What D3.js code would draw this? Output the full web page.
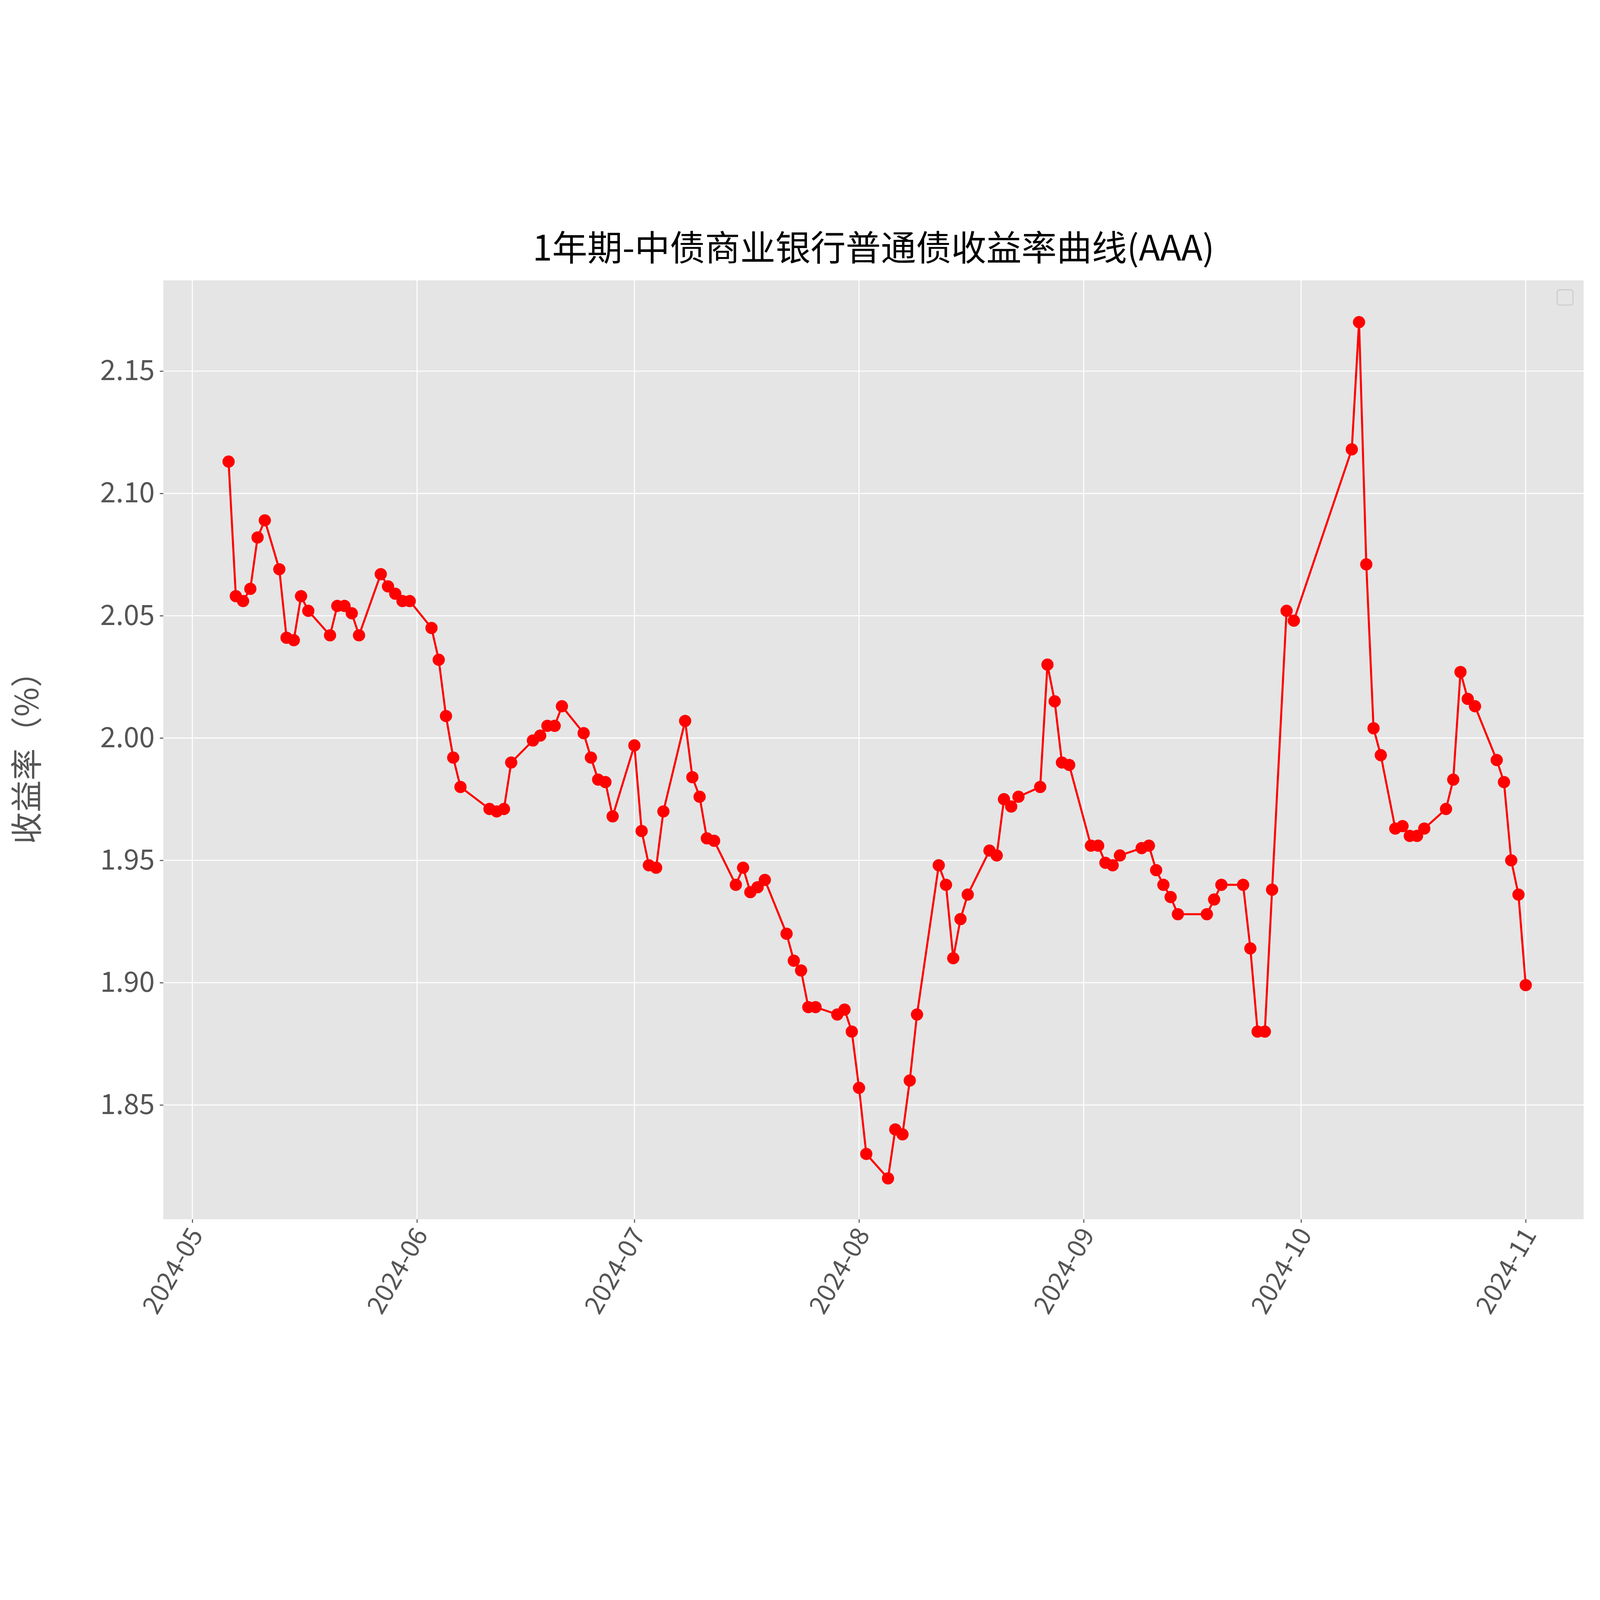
<!DOCTYPE html><html><head><meta charset="utf-8"><script src="https://d3js.org/d3.v7.min.js"></script>
<style>html,body{margin:0;padding:0;width:100%;height:100%;background:#fff;overflow:hidden}svg{display:block;width:100vw;height:100vh}</style></head><body><svg id="c" viewBox="0 0 6278 4574" preserveAspectRatio="xMidYMid meet"></svg>
<script>
const dates=["2024-05-06","2024-05-07","2024-05-08","2024-05-09","2024-05-10","2024-05-11","2024-05-13","2024-05-14","2024-05-15","2024-05-16","2024-05-17","2024-05-20","2024-05-21","2024-05-22","2024-05-23","2024-05-24","2024-05-27","2024-05-28","2024-05-29","2024-05-30","2024-05-31","2024-06-03","2024-06-04","2024-06-05","2024-06-06","2024-06-07","2024-06-11","2024-06-12","2024-06-13","2024-06-14","2024-06-17","2024-06-18","2024-06-19","2024-06-20","2024-06-21","2024-06-24","2024-06-25","2024-06-26","2024-06-27","2024-06-28","2024-07-01","2024-07-02","2024-07-03","2024-07-04","2024-07-05","2024-07-08","2024-07-09","2024-07-10","2024-07-11","2024-07-12","2024-07-15","2024-07-16","2024-07-17","2024-07-18","2024-07-19","2024-07-22","2024-07-23","2024-07-24","2024-07-25","2024-07-26","2024-07-29","2024-07-30","2024-07-31","2024-08-01","2024-08-02","2024-08-05","2024-08-06","2024-08-07","2024-08-08","2024-08-09","2024-08-12","2024-08-13","2024-08-14","2024-08-15","2024-08-16","2024-08-19","2024-08-20","2024-08-21","2024-08-22","2024-08-23","2024-08-26","2024-08-27","2024-08-28","2024-08-29","2024-08-30","2024-09-02","2024-09-03","2024-09-04","2024-09-05","2024-09-06","2024-09-09","2024-09-10","2024-09-11","2024-09-12","2024-09-13","2024-09-14","2024-09-18","2024-09-19","2024-09-20","2024-09-23","2024-09-24","2024-09-25","2024-09-26","2024-09-27","2024-09-29","2024-09-30","2024-10-08","2024-10-09","2024-10-10","2024-10-11","2024-10-12","2024-10-14","2024-10-15","2024-10-16","2024-10-17","2024-10-18","2024-10-21","2024-10-22","2024-10-23","2024-10-24","2024-10-25","2024-10-28","2024-10-29","2024-10-30","2024-10-31","2024-11-01"];
const yields=[2.113,2.058,2.056,2.061,2.082,2.089,2.069,2.041,2.040,2.058,2.052,2.042,2.054,2.054,2.051,2.042,2.067,2.062,2.059,2.056,2.056,2.045,2.032,2.009,1.992,1.980,1.971,1.970,1.971,1.990,1.999,2.001,2.005,2.005,2.013,2.002,1.992,1.983,1.982,1.968,1.997,1.962,1.948,1.947,1.970,2.007,1.984,1.976,1.959,1.958,1.940,1.947,1.937,1.939,1.942,1.920,1.909,1.905,1.890,1.890,1.887,1.889,1.880,1.857,1.830,1.820,1.840,1.838,1.860,1.887,1.948,1.940,1.910,1.926,1.936,1.954,1.952,1.975,1.972,1.976,1.980,2.030,2.015,1.990,1.989,1.956,1.956,1.949,1.948,1.952,1.955,1.956,1.946,1.940,1.935,1.928,1.928,1.934,1.940,1.940,1.914,1.880,1.880,1.938,2.052,2.048,2.118,2.170,2.071,2.004,1.993,1.963,1.964,1.960,1.960,1.963,1.971,1.983,2.027,2.016,2.013,1.991,1.982,1.950,1.936,1.899];
const xTicks=["2024-05","2024-06","2024-07","2024-08","2024-09","2024-10","2024-11"];
const yTicks=[1.85,1.90,1.95,2.00,2.05,2.10,2.15];
const title="1年期-中债商业银行普通债收益率曲线(AAA)";
const yLabel="收益率（%）";

const svg=d3.select("#c");
const L=641,T=248,R=6214,B=3932;
const font='"Noto Sans CJK SC", sans-serif';
const p=d3.utcParse("%Y-%m-%d");
const x=d3.scaleUtc().domain([d3.utcDay.offset(p("2024-05-01"),-3.81),d3.utcDay.offset(p("2024-11-01"),8.76)]).range([L,R]);
const y=d3.scaleLinear().domain([1.8033,2.1871]).range([B,T]);
svg.append("rect").attr("x",L).attr("y",T).attr("width",R-L).attr("height",B-T).attr("fill","#E5E5E5");
const xt=xTicks.map(s=>p(s+"-01"));
svg.append("g").selectAll("line").data(xt).join("line").attr("x1",d=>x(d)).attr("x2",d=>x(d)).attr("y1",T).attr("y2",B).attr("stroke","#fff").attr("stroke-width",4);
svg.append("g").selectAll("line").data(yTicks).join("line").attr("x1",L).attr("x2",R).attr("y1",d=>y(d)).attr("y2",d=>y(d)).attr("stroke","#fff").attr("stroke-width",4);
const xa=svg.append("g").attr("transform",`translate(0,${B})`).call(d3.axisBottom(x).tickValues(xt).tickSize(14).tickPadding(20).tickFormat((d,i)=>xTicks[i]));
xa.select(".domain").remove();
xa.selectAll("line").attr("stroke","#555").attr("stroke-width",4);
xa.selectAll("text").attr("font-family",font).attr("font-size",100).attr("fill","#555").attr("text-anchor","end").attr("dy","0.35em").attr("transform","rotate(-60)").attr("dx","-0.3em");
const ya=svg.append("g").attr("transform",`translate(${L},0)`).call(d3.axisLeft(y).tickValues(yTicks).tickSize(14).tickPadding(20).tickFormat(d3.format(".2f")));
ya.select(".domain").remove();
ya.selectAll("line").attr("stroke","#555").attr("stroke-width",4);
ya.selectAll("text").attr("font-family",font).attr("font-size",110).attr("fill","#555");
const data=dates.map((d,i)=>({d:p(d),v:yields[i]}));
svg.append("path").datum(data).attr("d",d3.line().x(d=>x(d.d)).y(d=>y(d.v))).attr("fill","none").attr("stroke","#FF0000").attr("stroke-width",8);
svg.append("g").selectAll("circle").data(data).join("circle").attr("cx",d=>x(d.d)).attr("cy",d=>y(d.v)).attr("r",24).attr("fill","#FF0000");
svg.append("text").attr("x",(L+R)/2).attr("y",170).attr("text-anchor","middle").attr("font-family",font).attr("font-size",138).attr("fill","#000").text(title);
svg.append("text").attr("transform",`translate(150,${(T+B)/2}) rotate(-90)`).attr("text-anchor","middle").attr("font-family",font).attr("font-size",125).attr("fill","#555").text(yLabel);
svg.append("rect").attr("x",6110).attr("y",285).attr("width",62).attr("height",60).attr("rx",10).attr("fill","#E5E5E5").attr("stroke","#ccc").attr("stroke-width",4);
</script></body></html>
